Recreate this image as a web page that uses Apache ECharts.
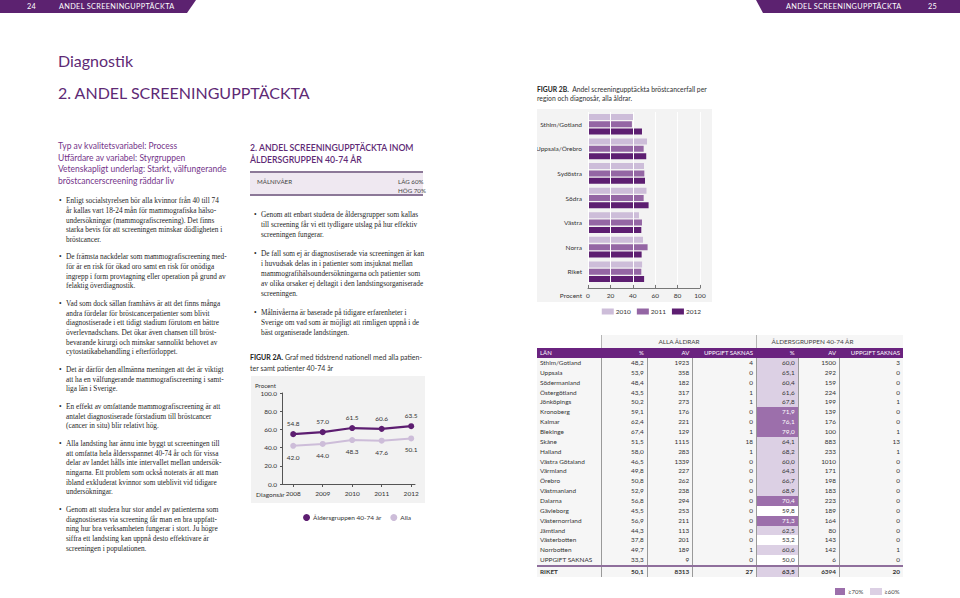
<!DOCTYPE html>
<html lang="sv">
<head>
<meta charset="utf-8">
<title>Andel screeningupptäckta</title>
<script src="https://cdn.jsdelivr.net/npm/echarts@6.0.0/dist/echarts.min.js"></script>
<style>
html,body{margin:0;padding:0;}
body{width:960px;height:598px;position:relative;overflow:hidden;background:#fff;font-family:Lato,"Noto Sans",sans-serif;color:#333;}
.band{position:absolute;top:0;height:13px;background:#5c2270;color:#fff;font-size:7.3px;line-height:13px;letter-spacing:.35px;white-space:nowrap;}
.band span{position:absolute;top:0;}
.h1{position:absolute;left:58px;font-size:16px;line-height:20px;color:#5e2a75;white-space:nowrap;}
.lead{position:absolute;left:58px;top:141.2px;font-size:8.5px;line-height:11.6px;color:#74348a;white-space:nowrap;}
.bul{position:absolute;font-family:"Liberation Serif",serif;font-size:7.3px;line-height:9.65px;color:#262626;}
.bul .p{position:relative;padding-left:7px;margin-bottom:8px;white-space:nowrap;}
.bul .p:before{content:"\2022";position:absolute;left:0;top:0;}
.bul.mid{line-height:10.2px;}
.bul.mid .p{margin-bottom:8px;}
.h2{position:absolute;left:250px;top:142px;font-size:8.7px;line-height:12px;color:#5e2a75;font-weight:600;white-space:nowrap;}
.goal{position:absolute;left:250px;top:171px;width:173px;height:21px;background:#efe8f1;border-top:2px solid #8c7898;border-bottom:2px solid #8c7898;font-size:6.2px;color:#444;}
.goal span{position:absolute;white-space:nowrap;line-height:8px;}
.cap{position:absolute;font-size:7px;line-height:10.5px;color:#333;white-space:nowrap;}
.cap b{color:#222;}
#lineBg{position:absolute;left:251px;top:376px;width:174px;height:127px;background:#f2f2f2;}
#lineChart{position:absolute;left:250px;top:372px;width:180px;height:150px;}
#barBg{position:absolute;left:537px;top:109px;width:175px;height:193px;background:#f3f3f3;}
#barChart{position:absolute;left:537px;top:109px;width:175px;height:211px;}
#tbl{position:absolute;left:537px;top:335px;width:366px;font-size:6.4px;color:#333;}
#tbl .r{display:flex;height:9.86px;line-height:9.86px;background:#f6f6f6;}
#tbl .c{box-sizing:border-box;padding:0 3px;text-align:right;white-space:nowrap;overflow:hidden;}
#tbl .r.b .c+.c{border-left:1px solid #9a9a9a;}
#tbl .c.n{text-align:left;}
#tbl .hd{background:#6a237f;color:#fff;height:10px;line-height:10px;font-size:6px;}
#tbl .top{height:13px;line-height:13px;background:#f6f6f6;color:#444;}
#tbl .top .c{text-align:center;}
#tbl .top .c:first-child{background:#fff;}
#tbl .top .c+.c{border-left:1px solid #b5b5b5;}
#tbl .tot{border-top:2px solid #8f6f9c;font-weight:700;height:10px;line-height:9px;}
.lg{position:absolute;font-size:6px;color:#444;line-height:8px;white-space:nowrap;}
.sw{position:absolute;width:10px;height:7px;}
</style>
</head>
<body>
<!-- header bands -->
<div class="band" style="left:0;width:196px;clip-path:polygon(0 0,196px 0,187px 13px,0 13px);">
  <span style="left:27px">24</span><span style="left:59px">ANDEL SCREENINGUPPTÄCKTA</span>
</div>
<div class="band" style="left:756px;width:204px;clip-path:polygon(0 0,204px 0,204px 13px,7px 13px);">
  <span style="left:30px">ANDEL SCREENINGUPPTÄCKTA</span><span style="left:172px">25</span>
</div>

<div class="h1" style="top:50.7px">Diagnostik</div>
<div class="h1" style="top:83.3px">2. ANDEL SCREENINGUPPTÄCKTA</div>

<div class="lead">Typ av kvalitetsvariabel: Process<br>Utfärdare av variabel: Styrgruppen<br>Vetenskapligt underlag: Starkt, välfungerande<br>bröstcancerscreening räddar liv</div>

<div class="bul" style="left:59px;top:196.2px;">
<div class="p">Enligt socialstyrelsen bör alla kvinnor från 40 till 74<br>år kallas vart 18-24 mån för mammografiska hälso-<br>undersökningar (mammografiscreening). Det finns<br>starka bevis för att screeningen minskar dödligheten i<br>bröstcancer.</div>
<div class="p">De främsta nackdelar som mammografiscreening med-<br>för är en risk för ökad oro samt en risk för onödiga<br>ingrepp i form provtagning eller operation på grund av<br>felaktig överdiagnostik.</div>
<div class="p">Vad som dock sällan framhävs är att det finns många<br>andra fördelar för bröstcancerpatienter som blivit<br>diagnostiserade i ett tidigt stadium förutom en bättre<br>överlevnadschans. Det ökar även chansen till bröst-<br>bevarande kirurgi och minskar sannolikt behovet av<br>cytostatikabehandling i efterförloppet.</div>
<div class="p">Det är därför den allmänna meningen att det är viktigt<br>att ha en välfungerande mammografiscreening i samt-<br>liga län i Sverige.</div>
<div class="p">En effekt av omfattande mammografiscreening är att<br>antalet diagnostiserade förstadium till bröstcancer<br>(cancer in situ) blir relativt hög.</div>
<div class="p">Alla landsting har ännu inte byggt ut screeningen till<br>att omfatta hela åldersspannet 40-74 år och för vissa<br>delar av landet hålls inte intervallet mellan undersök-<br>ningarna. Ett problem som också noterats är att man<br>ibland exkluderat kvinnor som uteblivit vid tidigare<br>undersökningar.</div>
<div class="p">Genom att studera hur stor andel av patienterna som<br>diagnostiseras via screening får man en bra uppfatt-<br>ning hur bra verksamheten fungerar i stort. Ju högre<br>siffra ett landsting kan uppnå desto effektivare är<br>screeningen i populationen.</div>
</div>

<div class="h2">2. ANDEL SCREENINGUPPTÄCKTA INOM<br>ÅLDERSGRUPPEN 40-74 ÅR</div>
<div class="goal">
  <span style="left:7px;top:5px">MÅLNIVÅER</span>
  <span style="left:148px;top:5px">LÅG 60%</span>
  <span style="left:148px;top:14px">HÖG 70%</span>
</div>

<div class="bul mid" style="left:254px;top:209.9px;">
<div class="p">Genom att enbart studera de åldersgrupper som kallas<br>till screening får vi ett tydligare utslag på hur effektiv<br>screeningen fungerar.</div>
<div class="p">De fall som ej är diagnostiserade via screeningen är kan<br>i huvudsak delas in i patienter som insjuknat mellan<br>mammografihälsoundersökningarna och patienter som<br>av olika orsaker ej deltagit i den landstingsorganiserade<br>screeningen.</div>
<div class="p">Målnivåerna är baserade på tidigare erfarenheter i<br>Sverige om vad som är möjligt att rimligen uppnå i de<br>bäst organiserade landstingen.</div>
</div>

<div class="cap" style="left:250px;top:352px;"><b>FIGUR 2A.</b> Graf med tidstrend nationell med alla patien-<br>ter samt patienter 40-74 år</div>
<div id="lineBg"></div>
<div id="lineChart"></div>

<div class="cap" style="left:537px;top:85px;font-size:6.8px;line-height:9px;"><b>FIGUR 2B.</b>&nbsp; Andel screeningupptäckta bröstcancerfall per<br>region och diagnosår, alla åldrar.</div>
<div id="barBg"></div>
<div id="barChart"></div>

<div id="tbl"></div>
<div class="sw" style="left:835px;top:588px;background:#9c6fab"></div>
<div class="lg" style="left:848px;top:587.5px">≥70%</div>
<div class="sw" style="left:870px;top:588px;width:11.7px;background:#dcd0e4"></div>
<div class="lg" style="left:884.3px;top:587.5px">≥60%</div>

<script>
// ---- Figure 2A data ----
const years = [2008, 2009, 2010, 2011, 2012];
const age4074 = [54.8, 57.0, 61.5, 60.6, 63.5];
const allAges = [42.0, 44.0, 48.3, 47.6, 50.1];

// ---- Figure 2B data ----
const regions = ['Sthlm/Gotland', 'Uppsala/Örebro', 'Sydöstra', 'Södra', 'Västra', 'Norra', 'Riket'];
const bar2010 = [40.7, 52.7, 50.0, 52.2, 45.5, 49.1, 48.3];
const bar2011 = [39.2, 49.7, 50.3, 49.7, 48.2, 53.2, 47.6];
const bar2012 = [48.2, 52.0, 50.9, 54.1, 47.6, 47.9, 50.1];

// ---- Table data ----
const lan = ['Sthlm/Gotland','Uppsala','Södermanland','Östergötland','Jönköpings','Kronoberg','Kalmar','Blekinge','Skåne','Halland','Västra Götaland','Värmland','Örebro','Västmanland','Dalarna','Gävleborg','Västernorrland','Jämtland','Västerbotten','Norrbotten','UPPGIFT SAKNAS','RIKET'];
const allPct = [48.2,53.9,48.4,43.5,50.2,59.1,62.4,67.4,51.5,58.0,46.5,49.8,50.8,52.9,56.8,45.5,56.9,44.3,37.8,49.7,33.3,50.1];
const allN = [1923,358,182,317,273,176,221,129,1115,283,1339,227,262,238,294,253,211,113,201,189,9,8313];
const allMissing = [4,0,0,1,1,0,0,1,18,1,0,0,0,0,0,0,0,0,0,1,0,27];
const agePct = [60.0,65.1,60.4,61.6,67.8,71.9,76.1,79.0,64.1,68.2,60.0,64.3,66.7,68.9,70.4,59.8,71.3,62.5,53.2,60.6,50.0,63.5];
const ageN = [1500,292,159,224,199,139,176,100,883,233,1010,171,198,183,223,189,164,80,143,142,6,6394];
const ageMissing = [3,0,0,0,1,0,0,1,13,1,0,0,0,0,0,0,0,0,0,1,0,20];
const headers = ['LÄN','%','AV','UPPGIFT SAKNAS','%','AV','UPPGIFT SAKNAS'];
const groupHeaders = ['ALLA ÅLDRAR','ÅLDERSGRUPPEN 40-74 ÅR'];

const DARK = '#5d1e71', MID = '#9466a4', LIGHT = '#cdbdd9';
const HI = '#9c6fab', LO = '#dcd0e4';

// ---- table ----
(function(){
  const w = [64, 45.7, 45.6, 63.7, 41.7, 41.3, 64];
  const fmt = v => v.toFixed(1).replace('.', ',');
  let h = '';
  h += '<div class="r top"><div class="c" style="width:'+w[0]+'px"></div>'
     + '<div class="c" style="width:'+(w[1]+w[2]+w[3])+'px">'+groupHeaders[0]+'</div>'
     + '<div class="c" style="width:'+(w[4]+w[5]+w[6])+'px;padding-right:38px">'+groupHeaders[1]+'</div></div>';
  h += '<div class="r hd">' + headers.map((t,i)=>'<div class="c'+(i===0?' n':'')+'" style="width:'+w[i]+'px">'+t+'</div>').join('') + '</div>';
  lan.forEach((name, i) => {
    const last = i === lan.length - 1;
    const p = agePct[i];
    const bg = p >= 70 ? 'background:'+HI+';color:#fff;' : (p >= 60 ? 'background:'+LO+';' : 'background:#fff;');
    const cells = [name, fmt(allPct[i]), allN[i], allMissing[i], fmt(p), ageN[i], ageMissing[i]];
    h += '<div class="r b'+(last?' tot':'')+'">' + cells.map((t,j)=>'<div class="c'+(j===0?' n':'')+'" style="width:'+w[j]+'px;'+(j===4?bg:'')+'">'+t+'</div>').join('') + '</div>';
  });
  document.getElementById('tbl').innerHTML = h;
})();

// ---- Figure 2A line chart ----
const lc = echarts.init(document.getElementById('lineChart'), null, {renderer:'svg'});
lc.setOption({
  animation:false,
  textStyle:{fontFamily:'Lato, "Noto Sans", sans-serif'},
  grid:{left:32, right:15, top:21, bottom:38, outerBoundsMode:'none'},
  legend:{
    right:14, top:137, itemWidth:7, itemHeight:7, itemGap:9, icon:'circle',
    textStyle:{fontSize:6.5, color:'#333', padding:[0,0,0,-2]},
    data:['Åldersgruppen 40-74 år','Alla']
  },
  xAxis:{
    type:'value', min:2007.62, max:2012.13,
    axisLine:{show:true, lineStyle:{color:'#555', width:1}},
    axisTick:{show:true, customValues:years, length:3, lineStyle:{color:'#555'}},
    axisLabel:{customValues:years, fontSize:6.5, color:'#333', margin:6, formatter:v=>String(v)},
    splitLine:{show:false}
  },
  yAxis:{
    type:'value', min:0, max:100, interval:20,
    name:'Procent', nameLocation:'end', nameGap:5,
    nameTextStyle:{fontSize:6.2, color:'#333', align:'right', padding:[0,6,0,0]},
    axisLine:{show:true, lineStyle:{color:'#555', width:1}},
    axisTick:{show:true, length:2, lineStyle:{color:'#555'}},
    axisLabel:{fontSize:6.5, color:'#333', margin:5, formatter:v=>v.toFixed(1)},
    splitLine:{show:false}
  },
  graphic:[{type:'text', x:6, y:122, style:{text:'Diagonsår', fontSize:6.5, fill:'#333', verticalAlign:'middle', fontFamily:'Lato'}}],
  series:[
    {name:'Åldersgruppen 40-74 år', type:'line', data:years.map((y,i)=>[y, age4074[i]]),
     symbol:'circle', symbolSize:6, lineStyle:{color:DARK, width:2.2}, itemStyle:{color:DARK},
     label:{show:true, position:'top', distance:4, fontSize:6.5, color:'#333', formatter:p=>p.value[1].toFixed(1)}},
    {name:'Alla', type:'line', data:years.map((y,i)=>[y, allAges[i]]),
     symbol:'circle', symbolSize:6, lineStyle:{color:LIGHT, width:2}, itemStyle:{color:LIGHT},
     label:{show:true, position:'bottom', distance:5, fontSize:6.5, color:'#333', formatter:p=>p.value[1].toFixed(1)}}
  ]
});

// ---- Figure 2B bar chart ----
const bc = echarts.init(document.getElementById('barChart'), null, {renderer:'svg'});
const barSeries = [['2010', bar2010, LIGHT], ['2011', bar2011, MID], ['2012', bar2012, DARK]].map(([n, d, c]) => ({
  name:n, type:'bar', data:d, barWidth:6, barGap:'22%', itemStyle:{color:c}, z:2
}));
bc.setOption({
  animation:false,
  textStyle:{fontFamily:'Lato, "Noto Sans", sans-serif'},
  grid:{left:51, right:12, top:3, bottom:36, outerBoundsMode:'none'},
  legend:{
    right:6, top:194, itemWidth:12, itemHeight:6, itemGap:6,
    textStyle:{fontSize:6.5, color:'#333', padding:[0,0,0,-3]},
    data:[{name:'2010', icon:'rect'}, {name:'2011', icon:'rect'}, {name:'2012', icon:'rect'}]
  },
  xAxis:{
    type:'value', min:0, max:100, interval:20, offset:4, z:5,
    axisLine:{show:true, lineStyle:{color:'#777', width:1}},
    axisTick:{show:true, inside:true, length:3, lineStyle:{color:'#777'}},
    axisLabel:{fontSize:6.5, color:'#333', margin:4},
    splitLine:{show:true, lineStyle:{color:'#ffffff', width:1}}
  },
  yAxis:{
    type:'category', data:regions, inverse:true,
    axisLine:{show:false}, axisTick:{show:false},
    axisLabel:{fontSize:6.5, color:'#333', margin:6}
  },
  graphic:[{type:'text', x:45, y:186, style:{text:'Procent', fontSize:6.5, fill:'#333', align:'right', verticalAlign:'middle', fontFamily:'Lato'}}],
  series:barSeries
});
</script>
</body>
</html>
